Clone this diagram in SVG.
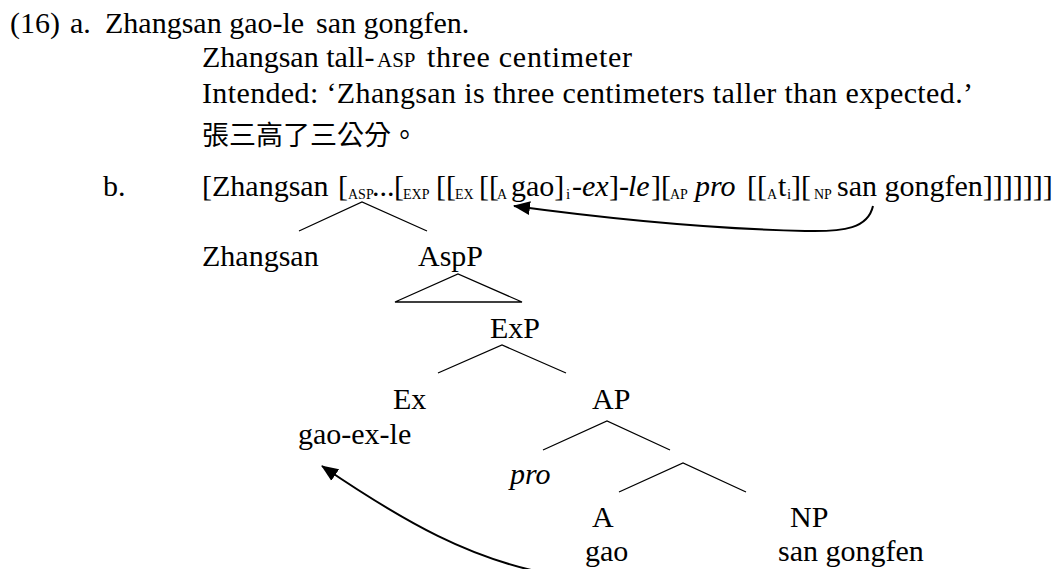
<svg xmlns="http://www.w3.org/2000/svg" width="1059" height="569" viewBox="0 0 1059 569">
<style>
text{font-family:"Liberation Serif","Times New Roman",serif;font-size:30px;fill:#000}
.sc{font-size:14px}
.sub{font-size:15px}
.it{font-style:italic}
.cjk{font-family:"Liberation Serif","Noto Sans CJK TC",sans-serif;font-size:27px}
.br{fill:none;stroke:#000;stroke-width:1.3}
.arr{fill:none;stroke:#000;stroke-width:2}
</style>
<defs>
<marker id="ah" markerUnits="userSpaceOnUse" markerWidth="18" markerHeight="16" refX="16" refY="7" orient="auto" viewBox="0 0 18 14">
<path d="M0,0 L17,7 L0,14 Z" fill="#000"/>
</marker>
</defs>
<rect width="1059" height="569" fill="#fff"/>
<g id="example-a">
<text x="10" y="33">(16)</text>
<text x="70" y="33">a.</text>
<text x="105" y="33">Zhangsan gao-le</text>
<text x="316" y="33">san gongfen.</text>
<text y="67"><tspan x="202">Zhangsan tall-</tspan><tspan x="377" style="font-size:21px">ASP</tspan><tspan x="427" textLength="205" lengthAdjust="spacing">three centimeter</tspan></text>
<text x="202" y="103" textLength="771" lengthAdjust="spacing">Intended: ‘Zhangsan is three centimeters taller than expected.’</text>
<text class="cjk" x="202" y="145">張三高了三公分。</text>
</g>
<g id="example-b">
<text x="103" y="196">b.</text>
<text y="196"><tspan x="202">[Zhangsan</tspan><tspan x="338">[</tspan><tspan class="sc" x="348" y="199">ASP</tspan><tspan x="372" y="196">...</tspan><tspan x="394">[</tspan><tspan class="sc" x="403" y="199">EXP</tspan><tspan x="436" y="196">[[</tspan><tspan class="sc" x="455" y="199">EX</tspan><tspan x="479" y="196">[[</tspan><tspan class="sc" x="497" y="199">A</tspan><tspan x="511" y="196">gao]</tspan><tspan class="sub" x="566" y="199">i</tspan><tspan x="572" y="196">-</tspan><tspan class="it" x="582">ex</tspan><tspan x="609">]-</tspan><tspan class="it" x="628">le</tspan><tspan x="651">][</tspan><tspan class="sc" x="670" y="199">AP</tspan><tspan class="it" x="695" y="196">pro</tspan><tspan x="747">[[</tspan><tspan class="sc" x="767" y="199">A</tspan><tspan x="778" y="196">t</tspan><tspan class="sub" x="787" y="199">i</tspan><tspan x="791" y="196">][</tspan><tspan class="sc" x="814" y="199">NP</tspan><tspan x="837" y="196">san gongfen]]]]]]]</tspan></text>
</g>
<g id="node-zhangsan"><text x="202" y="266">Zhangsan</text></g>
<g id="node-aspp"><text x="418" y="266">AspP</text></g>
<g id="node-exp"><text x="490" y="338">ExP</text></g>
<g id="node-ex"><text x="393" y="409">Ex</text><text x="298" y="444">gao-ex-le</text></g>
<g id="node-ap"><text x="592" y="409">AP</text></g>
<g id="node-pro"><text class="it" x="510" y="484">pro</text></g>
<g id="node-a"><text x="592" y="527">A</text><text x="585" y="561">gao</text></g>
<g id="node-np"><text x="790" y="527">NP</text><text x="778" y="561">san gongfen</text></g>
<g id="connectors">
<path class="br" d="M299,231 L362,202 L427,231"/>
<path class="br" d="M395,302 L458,274 L522,302 Z"/>
<path class="br" d="M438,373 L502,345 L566,373"/>
<path class="br" d="M543,450 L607,421 L670,450"/>
<path class="br" d="M619,492 L683,463 L746,492"/>
<path class="arr" d="M873,206 C868,228 845,232 805,231 C720,229 610,219 514,206" marker-end="url(#ah)"/>
<path class="arr" d="M540,572 C470,557 410,526 322,466" marker-end="url(#ah)"/>
</g>
</svg>
